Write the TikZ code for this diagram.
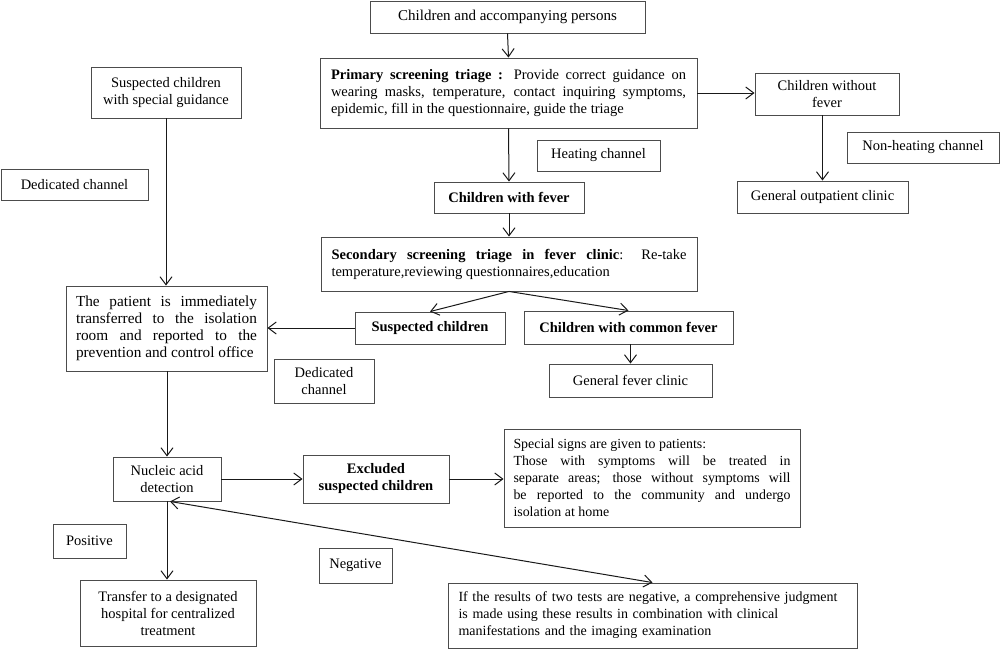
\documentclass[tikz,border=0pt]{standalone}
\usepackage{fontspec}
\setmainfont{Liberation Serif}
\usetikzlibrary{arrows.meta}
\newcommand\fsz[1]{\fontsize{#1}{17}\selectfont\hyphenpenalty=10000\exhyphenpenalty=10000}
\newcommand\fs{\fsz{14.5}}
\tikzset{
  box/.style={draw=black!70, line width=0.9pt, inner sep=2pt, align=center, font=\fs},
  jbox/.style={box, align=justify},
  arr/.style={draw=black!90, line width=1pt, -{Straight Barb[length=8pt,width=12pt]}},
  darr/.style={draw=black!90, line width=1pt, {Straight Barb[length=8pt,width=12pt]}-{Straight Barb[length=8pt,width=12pt]}},
}
\begin{document}
\begin{tikzpicture}[x=1pt,y=-1pt]
\useasboundingbox (0,0) rectangle (1000,661);
% nodes
\node[box, font=\fsz{15}, minimum width=275pt, minimum height=32pt] (top) at (507.5,17) {Children and accompanying persons};
\node[jbox, text width=355pt, minimum width=377pt, minimum height=70pt] (prim) at (508.5,93)
  {\textbf{Primary screening triage :} Provide correct guidance on\linebreak wearing masks, temperature, contact inquiring symptoms,\linebreak epidemic, fill in the questionnaire, guide the triage};
\node[box, minimum width=144pt, minimum height=42pt] (nofever) at (827,94) {Children without\\fever};
\node[box, minimum width=152pt, minimum height=31pt] (nonheat) at (923,147.5) {Non-heating channel};
\node[box, minimum width=171pt, minimum height=32pt] (genout) at (822.5,197) {General outpatient clinic};
\node[box, minimum width=123pt, minimum height=31pt] (heating) at (598.5,155.5) {Heating channel};
\node[box, minimum width=150pt, minimum height=31pt] (fever) at (509,197.5) {\textbf{Children with fever}};
\node[jbox, text width=355pt, minimum width=376pt, minimum height=54pt] (second) at (509,264)
  {\textbf{Secondary screening triage in fever clinic}: Re-take\linebreak temperature,reviewing questionnaires,education};
\node[box, minimum width=150pt, minimum height=32pt] (susp) at (430,328) {\textbf{Suspected children}};
\node[box, minimum width=209pt, minimum height=33pt] (common) at (628.5,327.5) {\textbf{Children with common fever}};
\node[box, minimum width=163pt, minimum height=33pt] (genfever) at (630.5,380.5) {General fever clinic};
\node[box, minimum width=100pt, minimum height=44pt] (ded2) at (324,381) {Dedicated\\channel};
\node[box, minimum width=150pt, minimum height=51pt] (special) at (166,92.5) {Suspected children\\with special guidance};
\node[box, minimum width=147pt, minimum height=31pt] (ded1) at (74.5,184.5) {Dedicated channel};
\node[jbox, font=\fsz{15.3}, text width=181pt, minimum width=201pt, minimum height=85pt] (patient) at (166.5,328.5)
  {The patient is immediately\linebreak transferred to the isolation\linebreak room and reported to the\linebreak prevention and control office};
\node[box, minimum width=108pt, minimum height=44pt] (nucleic) at (167,479) {Nucleic acid\\detection};
\node[box, minimum width=146pt, minimum height=48pt] (excluded) at (376,479) {\textbf{Excluded}\\\textbf{suspected children}};
\node[jbox, font=\fsz{13.9}, text width=277pt, minimum width=296pt, minimum height=98pt] (signs) at (652,478)
  {Special signs are given to patients:\\Those with symptoms will be treated in\linebreak separate areas; those without symptoms will\linebreak be reported to the community and undergo\linebreak isolation at home};
\node[box, minimum width=73pt, minimum height=34pt] (pos) at (89.5,541) {Positive};
\node[box, minimum width=176pt, minimum height=66pt] (transfer) at (168,613) {Transfer to a designated\\hospital for centralized\\treatment};
\node[box, minimum width=73pt, minimum height=35pt] (neg) at (355.5,565.5) {Negative};
\node[box, font=\fsz{14}, align=left, text width=388pt, minimum width=409pt, minimum height=65pt] (results) at (652.5,615.5)
  {If the results of two tests are negative, a comprehensive judgment\\is made using these results in combination with clinical\\manifestations and the imaging examination};
% connectors
\draw[arr] (top.south) -- (prim.north);
\draw[arr] (prim.east) -- (prim.east -| nofever.west);
\draw[arr] (nofever.south -| genout.north) -- (genout.north);
\draw[arr] (prim.south) -- (fever.north);
\draw[arr] (fever.south) -- (second.north);
\draw[arr] (second.south) -- (susp.north);
\draw[arr] (second.south) -- (common.north);
\draw[arr] (common.south -| genfever.north) -- (genfever.north);
\draw[arr] (susp.west) -- (susp.west -| patient.east);
\draw[arr] (special.south) -- (special.south |- patient.north);
\draw[arr] (patient.south -| nucleic.north) -- (nucleic.north);
\draw[arr] (nucleic.east) -- (excluded.west);
\draw[arr] (excluded.east) -- (excluded.east -| signs.west);
\draw[arr] (nucleic.south) -- (nucleic.south |- transfer.north);
\draw[darr] ([xshift=3pt]nucleic.south) -- (results.north);
\end{tikzpicture}
\end{document}
